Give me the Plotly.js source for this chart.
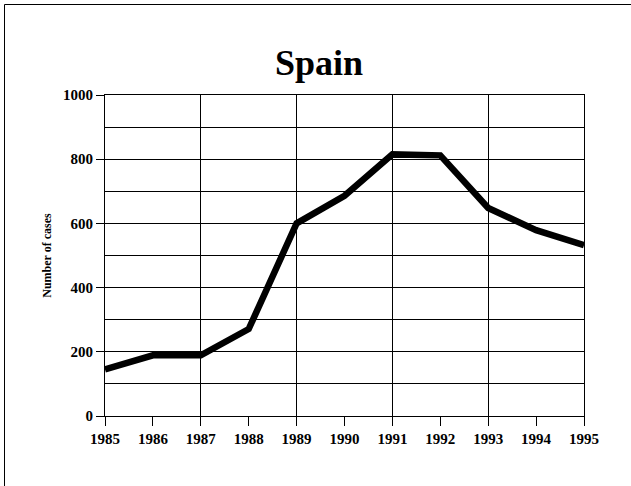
<!DOCTYPE html>
<html>
<head>
<meta charset="utf-8">
<script src="https://cdn.plot.ly/plotly-3.0.1.min.js"></script>
<style>
html,body{margin:0;padding:0;background:#fff;}
#chart{width:631px;height:486px;}
</style>
</head>
<body>
<div id="chart"></div>
<script>
const years = [1985, 1986, 1987, 1988, 1989, 1990, 1991, 1992, 1993, 1994, 1995];
const cases = [145, 189, 189, 271, 600, 686, 815, 812, 648, 579, 532];
const chartTitle = 'Spain';
const yAxisTitle = 'Number of cases';

const serif = '"Liberation Serif", "Times New Roman", serif';

const traces = [
  {
    x: years, y: cases, type: 'scatter', mode: 'lines',
    line: {color: '#000', width: 6.5},
    hoverinfo: 'skip', showlegend: false
  },
  {
    x: [years[0], years[years.length - 1]], y: [0, 0], xaxis: 'x2', type: 'scatter', mode: 'lines',
    line: {width: 0}, opacity: 0, hoverinfo: 'skip', showlegend: false
  }
];

const layout = {
  width: 631, height: 486,
  margin: {l: 105, r: 47, t: 95, b: 70},
  paper_bgcolor: '#fff', plot_bgcolor: '#fff',
  showlegend: false,
  title: {
    text: '<b>' + chartTitle + '</b>',
    font: {family: serif, size: 36, color: '#000'},
    x: 0.5055, xref: 'container', xanchor: 'center',
    y: 1 - 62 / 486, yref: 'container', yanchor: 'middle'
  },
  xaxis: {
    range: [years[0], years[years.length - 1]],
    tickmode: 'array', tickvals: years, ticktext: years.map(String),
    ticks: 'outside', ticklen: 9, tickwidth: 1, tickcolor: '#000',
    showgrid: false, zeroline: false,
    showline: true, linecolor: '#000', linewidth: 1, mirror: true,
    tickfont: {family: serif, size: 15, color: '#000', weight: 'bold'},
    fixedrange: true
  },
  xaxis2: {
    overlaying: 'x', range: [years[0], years[years.length - 1]],
    tick0: 1985, dtick: 2, showgrid: true, gridcolor: '#000', gridwidth: 1,
    showticklabels: false, ticks: '', zeroline: false, showline: false,
    fixedrange: true
  },
  yaxis: {
    range: [0, 1000], tick0: 0, dtick: 200,
    ticks: 'outside', ticklen: 8, tickwidth: 1, tickcolor: '#000',
    showgrid: true, gridcolor: '#000', gridwidth: 1,
    minor: {dtick: 100, showgrid: true, gridcolor: '#000', gridwidth: 1, ticks: ''},
    zeroline: false,
    showline: true, linecolor: '#000', linewidth: 1, mirror: true,
    tickfont: {family: serif, size: 15, color: '#000', weight: 'bold'},
    title: {text: yAxisTitle, font: {family: serif, size: 12, color: '#000', weight: 'bold'}, standoff: 8},
    fixedrange: true
  },
  shapes: [
    {type: 'line', xref: 'paper', yref: 'paper',
     x0: (4.5 - 105) / 479, x1: 2, y0: (416 - 4.5) / 321, y1: (416 - 4.5) / 321,
     line: {color: '#000', width: 1}, layer: 'above'},
    {type: 'line', xref: 'paper', yref: 'paper',
     x0: (4.5 - 105) / 479, x1: (4.5 - 105) / 479, y0: (416 - 4.5) / 321, y1: -1,
     line: {color: '#000', width: 1}, layer: 'above'}
  ]
};

Plotly.newPlot('chart', traces, layout, {displayModeBar: false, staticPlot: true});
</script>
</body>
</html>
